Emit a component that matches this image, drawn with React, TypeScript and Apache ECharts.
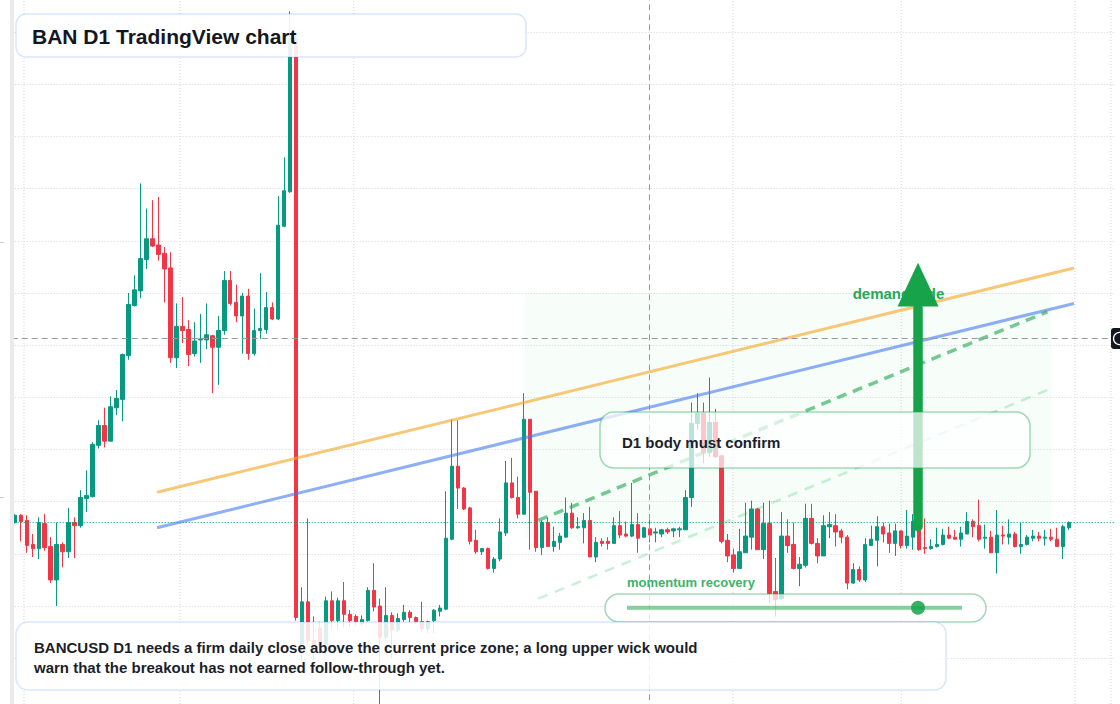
import React, { useEffect, useRef } from "react";
import * as echarts from "echarts";

// BANCUSD daily candles, prices in units of 0.00001 USD
const openE5 = [
  380, 387, 382, 359, 355, 379, 357, 325, 359, 352, 380, 377, 403, 405, 454, 473, 458, 490, 498, 540,
  588, 602, 632, 652, 646, 638, 624, 538, 568, 565, 542, 555, 555, 559, 548, 564, 612, 591, 578, 597,
  542, 564, 565, 586, 575, 664, 697, 844, 263, 304, 267, 279, 263, 305, 286, 305, 292, 290, 283, 286,
  315, 300, 270, 291, 277, 287, 294, 289, 285, 278, 286, 295, 297, 364, 434, 413, 394, 363, 352, 355,
  336, 345, 370, 418, 404, 388, 479, 410, 356, 380, 357, 361, 366, 389, 375, 375, 382, 347, 362, 362,
  360, 377, 369, 367, 378, 366, 374, 370, 369, 373, 372, 373, 373, 404, 475, 485, 447, 476, 444, 363,
  349, 336, 351, 366, 393, 354, 379, 314, 307, 367, 359, 336, 339, 384, 360, 348, 376, 377, 372, 366,
  322, 335, 325, 358, 363, 376, 370, 360, 372, 358, 366, 373, 356, 355, 357, 359, 368, 366, 364, 369,
  381, 377, 365, 366, 351, 368, 366, 369, 357, 359, 365, 367, 365, 366, 364, 357, 375,
];
const closeE5 = [
  387, 381, 358, 355, 380, 356, 325, 359, 352, 380, 377, 404, 406, 455, 473, 458, 491, 499, 541, 589,
  603, 633, 652, 645, 637, 623, 538, 568, 564, 541, 554, 556, 560, 548, 564, 612, 590, 578, 597, 542,
  564, 566, 586, 575, 665, 698, 844, 289, 304, 267, 262, 263, 305, 286, 305, 292, 286, 285, 287, 315,
  299, 270, 291, 277, 288, 294, 289, 285, 278, 285, 296, 298, 365, 434, 413, 393, 362, 352, 355, 336,
  345, 371, 418, 404, 388, 479, 409, 356, 380, 357, 362, 367, 389, 375, 376, 382, 347, 361, 360, 360,
  377, 368, 367, 378, 365, 375, 368, 371, 373, 371, 374, 374, 404, 475, 485, 447, 476, 443, 362, 348,
  336, 352, 367, 393, 354, 379, 312, 306, 367, 358, 336, 340, 384, 360, 348, 377, 378, 371, 366, 322,
  335, 325, 359, 364, 376, 369, 360, 372, 358, 367, 381, 354, 355, 357, 359, 368, 365, 364, 370, 381,
  376, 364, 366, 351, 368, 367, 369, 357, 359, 366, 367, 365, 366, 364, 357, 376, 380,
];
const lowE5 = [
  379, 362, 351, 347, 345, 353, 322, 300, 337, 346, 346, 375, 390, 404, 451, 452, 458, 483, 477, 536,
  587, 595, 623, 644, 631, 591, 533, 528, 552, 530, 539, 533, 546, 504, 512, 560, 588, 572, 542, 536,
  540, 556, 561, 574, 574, 663, 696, 286, 248, 263, 248, 254, 254, 277, 277, 279, 280, 281, 281, 285,
  295, 204, 267, 250, 275, 285, 284, 283, 275, 274, 274, 290, 296, 363, 393, 392, 359, 350, 349, 335,
  332, 343, 367, 403, 384, 388, 354, 352, 349, 357, 352, 354, 366, 374, 374, 360, 347, 342, 357, 354,
  360, 365, 366, 366, 351, 365, 361, 361, 366, 369, 366, 366, 373, 395, 469, 437, 443, 442, 360, 342,
  332, 336, 351, 354, 354, 345, 303, 290, 306, 351, 335, 319, 337, 359, 341, 348, 365, 357, 360, 316,
  321, 323, 323, 358, 338, 361, 351, 348, 355, 355, 354, 353, 350, 354, 356, 358, 364, 364, 357, 369,
  366, 362, 355, 351, 331, 359, 359, 356, 350, 358, 362, 362, 358, 362, 357, 345, 373,
];
const highE5 = [
  388, 388, 387, 369, 385, 388, 366, 380, 361, 394, 385, 411, 430, 457, 478, 490, 501, 507, 542, 600,
  617, 705, 681, 689, 692, 644, 639, 590, 596, 574, 572, 580, 590, 560, 578, 621, 621, 608, 600, 604,
  585, 619, 601, 591, 693, 730, 870, 846, 318, 384, 290, 285, 309, 314, 308, 323, 296, 292, 291, 318,
  341, 307, 318, 294, 293, 301, 296, 290, 304, 286, 297, 301, 410, 479, 478, 414, 395, 373, 355, 356,
  347, 384, 439, 442, 424, 504, 479, 410, 382, 385, 376, 370, 404, 399, 385, 389, 395, 366, 365, 366,
  385, 391, 381, 418, 389, 376, 388, 375, 374, 375, 375, 376, 411, 495, 504, 495, 519, 489, 444, 369,
  355, 374, 399, 401, 394, 399, 401, 346, 390, 383, 380, 347, 398, 398, 365, 387, 390, 388, 374, 368,
  341, 338, 365, 377, 386, 380, 379, 379, 372, 392, 388, 382, 384, 364, 375, 374, 376, 373, 376, 390,
  383, 402, 378, 372, 392, 377, 383, 371, 380, 368, 373, 371, 373, 374, 375, 378, 381,
];

// 177 candles plus empty right-margin slots, as on the TradingView pane
const SLOT_COUNT = 184;
const categories = Array.from({ length: SLOT_COUNT }, (_, i) => `D${i + 1}`);

// month-start vertical grid lines (bar index)
const monthGridIdx = [1.55, 27.6, 56.6, 119.9, 148.0, 177.0, 183.0];

// drawings, [bar index, price e-5]
const resistanceLine = [[23.76, 409], [176.85, 624]];
const supportLine = [[23.76, 375], [176.85, 590]];
const breakoutGuide = [[87.4, 382], [172.4, 582]];
const lowerGuide = [[87.4, 307], [172.4, 507]];
const demandZone = [85.2, 365, 173.2, 600];
const demandArrow = [150.8, 376, 587, 629];
const crosshairIdx = 105.9;
const crosshairPrice = 557;

const UP = "#089981";
const DOWN = "#f23645";
const FONT = "'Liberation Sans', Arial, Helvetica, sans-serif";

export default function App() {
  const ref = useRef<HTMLDivElement | null>(null);

  useEffect(() => {
    if (!ref.current) return;
    const chart = echarts.init(ref.current, null, { renderer: "svg" });
    const candles = openE5.map((o, i) => [o, closeE5[i], lowE5[i], highE5[i]]);
    const lastClose = closeE5[closeE5.length - 1];

    const option: any = {
      animation: false,
      backgroundColor: "#ffffff",
      grid: {
        left: 11.7,
        right: 6.1,
        top: -20.03,
        bottom: -6.35,
        containLabel: false,
        outerBoundsMode: "none",
      },
      xAxis: [
        {
          type: "category",
          data: categories,
          boundaryGap: true,
          show: false,
          splitLine: { show: false },
        },
        {
          type: "value",
          min: -0.5,
          max: SLOT_COUNT - 0.5,
          show: false,
          splitLine: { show: false },
        },
      ],
      yAxis: {
        type: "value",
        min: 200,
        max: 900,
        interval: 50,
        position: "right",
        axisLine: { show: false },
        axisTick: { show: false },
        axisLabel: { show: false },
        splitLine: { show: true, lineStyle: { color: "#d6d6d6", type: [1, 2], width: 1 } },
      },
      series: [
        {
          type: "custom",
          name: "monthGrid",
          xAxisIndex: 1,
          z: 0,
          silent: true,
          data: monthGridIdx.map((x) => [x, 500]),
          encode: { x: 0, y: 1 },
          renderItem: (params: any, api: any) => {
            const x = api.coord([api.value(0), 500])[0];
            const y1 = api.coord([api.value(0), 900])[1];
            const y2 = api.coord([api.value(0), 200])[1];
            return {
              type: "line",
              shape: { x1: x, y1, x2: x, y2 },
              style: { stroke: "#d6d6d6", lineDash: [1, 2], lineWidth: 1 },
            };
          },
        },
        {
          type: "custom",
          name: "demandZone",
          xAxisIndex: 1,
          z: 1,
          silent: true,
          data: [demandZone],
          encode: { x: [0, 2], y: [1, 3] },
          renderItem: (params: any, api: any) => {
            const p1 = api.coord([api.value(0), api.value(3)]);
            const p2 = api.coord([api.value(2), api.value(1)]);
            return {
              type: "rect",
              shape: { x: p1[0], y: p1[1], width: p2[0] - p1[0], height: p2[1] - p1[1] },
              style: { fill: "rgba(34,197,94,0.035)" },
            };
          },
        },
        {
          type: "candlestick",
          name: "BANCUSD",
          xAxisIndex: 0,
          z: 2,
          barWidth: 3.8,
          data: candles,
          itemStyle: {
            color: UP,
            color0: DOWN,
            borderColor: UP,
            borderColor0: DOWN,
            borderWidth: 1,
          },
          markLine: {
            silent: true,
            symbol: ["none", "none"],
            label: { show: false },
            lineStyle: { color: UP, type: [1, 2], width: 1 },
            data: [{ yAxis: lastClose }],
          },
        },
        {
          type: "line",
          name: "resistance",
          xAxisIndex: 1,
          z: 3,
          silent: true,
          symbol: "none",
          data: resistanceLine,
          lineStyle: { color: "rgba(245,166,35,0.62)", width: 3 },
          markLine: {
            silent: true,
            symbol: ["none", "none"],
            label: { show: false },
            lineStyle: { color: "#9598a1", type: [6, 4], width: 1 },
            data: [{ xAxis: crosshairIdx }, { yAxis: crosshairPrice }],
          },
        },
        {
          type: "line",
          name: "support",
          xAxisIndex: 1,
          z: 3,
          silent: true,
          symbol: "none",
          data: supportLine,
          lineStyle: { color: "rgba(66,120,240,0.6)", width: 3 },
        },
        {
          type: "line",
          name: "breakoutGuide",
          xAxisIndex: 1,
          z: 3,
          silent: true,
          symbol: "none",
          data: breakoutGuide,
          lineStyle: { color: "rgba(34,170,80,0.62)", width: 3.5, type: [10, 7] },
        },
        {
          type: "line",
          name: "lowerGuide",
          xAxisIndex: 1,
          z: 3,
          silent: true,
          symbol: "none",
          data: lowerGuide,
          lineStyle: { color: "rgba(34,197,94,0.25)", width: 2.5, type: [10, 8] },
        },
        {
          type: "custom",
          name: "demandArrow",
          xAxisIndex: 1,
          z: 5,
          silent: true,
          data: [demandArrow],
          encode: { x: 0, y: [1, 2, 3] },
          renderItem: (params: any, api: any) => {
            const x = api.value(0);
            const pBase = api.coord([x, api.value(1)]);
            const pNeck = api.coord([x, api.value(2)]);
            const pTip = api.coord([x, api.value(3)]);
            return {
              type: "group",
              children: [
                {
                  type: "line",
                  shape: { x1: pBase[0], y1: pBase[1], x2: pNeck[0], y2: pNeck[1] + 2 },
                  style: { stroke: "#16a34a", lineWidth: 9.5, lineCap: "round" },
                },
                {
                  type: "polygon",
                  shape: {
                    points: [
                      [pNeck[0] - 20.5, pNeck[1]],
                      [pNeck[0] + 20.5, pNeck[1]],
                      [pTip[0], pTip[1]],
                    ],
                  },
                  style: { fill: "#16a34a" },
                },
              ],
            };
          },
        },
      ],
      graphic: [
        { type: "rect", z: 50, silent: true, shape: { x: 10, y: 0, width: 4, height: 704 }, style: { fill: "#ebebeb" } },
        { type: "line", z: 50, silent: true, shape: { x1: 0, y1: 242.5, x2: 4, y2: 242.5 }, style: { stroke: "#cfcfcf", lineWidth: 1 } },
        { type: "line", z: 50, silent: true, shape: { x1: 0, y1: 497.5, x2: 4, y2: 497.5 }, style: { stroke: "#cfcfcf", lineWidth: 1 } },
        {
          type: "text", z: 4, silent: true, x: 898.5, y: 293,
          style: { text: "demand side", fill: "#2aa65a", font: `bold 15px ${FONT}`, textAlign: "center", textVerticalAlign: "middle" },
        },
        {
          type: "rect", z: 100, silent: true,
          shape: { x: 16, y: 14, width: 510, height: 43, r: 10 },
          style: { fill: "rgba(255,255,255,0.9)", stroke: "rgba(59,130,246,0.2)", lineWidth: 1.5 },
        },
        {
          type: "text", z: 101, silent: true, x: 32, y: 36,
          style: { text: "BAN D1 TradingView chart", fill: "#131722", font: `bold 21px ${FONT}`, textVerticalAlign: "middle" },
        },
        {
          type: "rect", z: 100, silent: true,
          shape: { x: 600, y: 412, width: 430, height: 56, r: 14 },
          style: { fill: "rgba(255,255,255,0.72)", stroke: "rgba(22,163,74,0.4)", lineWidth: 1.5 },
        },
        {
          type: "text", z: 101, silent: true, x: 622, y: 442,
          style: { text: "D1 body must confirm", fill: "#1a1f2b", font: `bold 15px ${FONT}`, textVerticalAlign: "middle" },
        },
        {
          type: "text", z: 101, silent: true, x: 627, y: 582.5,
          style: { text: "momentum recovery", fill: "#3cb46a", font: `bold 13px ${FONT}`, textVerticalAlign: "middle" },
        },
        {
          type: "rect", z: 100, silent: true,
          shape: { x: 605, y: 594, width: 381, height: 28, r: 14 },
          style: { fill: "rgba(255,255,255,0.75)", stroke: "rgba(22,163,74,0.4)", lineWidth: 1.5 },
        },
        {
          type: "line", z: 101, silent: true,
          shape: { x1: 627, y1: 607.7, x2: 962, y2: 607.7 },
          style: { stroke: "rgba(34,170,80,0.55)", lineWidth: 4 },
        },
        {
          type: "circle", z: 102, silent: true,
          shape: { cx: 918, cy: 607.7, r: 7 },
          style: { fill: "rgba(22,163,74,0.85)" },
        },
        {
          type: "rect", z: 100, silent: true,
          shape: { x: 16, y: 622, width: 930, height: 68, r: 12 },
          style: { fill: "rgba(255,255,255,0.86)", stroke: "rgba(59,130,246,0.2)", lineWidth: 1.5 },
        },
        {
          type: "text", z: 101, silent: true, x: 34, y: 647.5,
          style: {
            text: "BANCUSD D1 needs a firm daily close above the current price zone; a long upper wick would",
            fill: "#1a1f2b", font: `bold 15px ${FONT}`, textVerticalAlign: "middle",
          },
        },
        {
          type: "text", z: 101, silent: true, x: 34, y: 667.5,
          style: {
            text: "warn that the breakout has not earned follow-through yet.",
            fill: "#1a1f2b", font: `bold 15px ${FONT}`, textVerticalAlign: "middle",
          },
        },
        {
          type: "rect", z: 100, silent: true,
          shape: { x: 1111, y: 328, width: 20, height: 21, r: 3 },
          style: { fill: "#131722" },
        },
        {
          type: "circle", z: 101, silent: true,
          shape: { cx: 1119.5, cy: 338.5, r: 6 },
          style: { fill: "none", stroke: "#ffffff", lineWidth: 1.3 },
        },
      ],
    };

    chart.setOption(option);
    return () => {
      chart.dispose();
    };
  }, []);

  return (
    <div
      ref={ref}
      style={{ position: "absolute", left: 0, top: 0, width: 1120, height: 704, background: "#fff" }}
    />
  );
}
